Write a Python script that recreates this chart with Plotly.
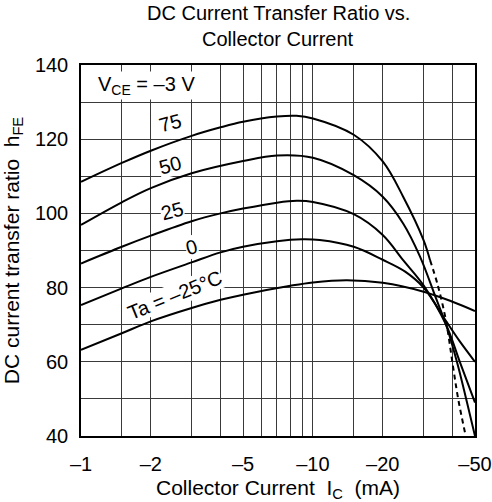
import plotly.graph_objects as go

# ---- data (Ic in mA magnitude, hFE) ----
ic_m25 = [1, 1.5, 2, 3, 4, 5, 8, 10, 14, 20, 30, 40, 50]
hfe_m25 = [63.2, 67.7, 70.9, 74.5, 76.7, 78.1, 80.5, 81.4, 82.0, 81.3, 78.9, 76.2, 73.7]

ic_0 = [1, 1.5, 2, 3, 4, 5, 7, 9, 10.7, 15, 20, 25, 30, 37.5, 43, 50]
hfe_0 = [75.3, 79.8, 82.9, 86.8, 89.5, 91.0, 92.5, 93.0, 92.8, 91.0, 87.5, 84.3, 80.0, 71.0, 65.5, 60.0]

ic_25 = [1, 1.5, 2, 3, 4, 5, 7, 8.5, 10, 15, 20, 24.5, 30, 37.5, 43, 50]
hfe_25 = [86.5, 91.0, 94.0, 97.9, 100.0, 101.3, 102.9, 103.4, 103.1, 99.8, 94.2, 87.4, 80.6, 70.0, 60.0, 49.0]

ic_50 = [1, 1.5, 2, 3, 5, 7, 10, 15, 20, 24.5, 29, 34, 37.5, 42, 46, 50]
hfe_50 = [96.9, 103.0, 106.8, 110.8, 114.1, 115.6, 115.0, 110.3, 104.5, 97.3, 88.3, 77.0, 70.0, 59.5, 49.5, 40.0]

ic_75 = [1, 1.5, 2, 3, 4, 5, 7, 8.5, 10, 15, 20, 24.5, 30, 32]
hfe_75 = [108.5, 113.6, 116.9, 120.9, 123.2, 124.7, 126.1, 126.3, 125.6, 121.2, 114.0, 104.5, 92.8, 87.4]
ic_75_dash = [32, 34.6, 37.5, 40.2, 42.4, 45.6]
hfe_75_dash = [87.4, 80.5, 71.0, 58.7, 49.7, 40.0]

x_grid = [1, 1.5, 2, 3, 4, 5, 6, 7, 8, 9, 10, 15, 20, 30, 40, 50]
x_labels = {1: "–1", 2: "–2", 5: "–5", 10: "–10", 20: "–20", 50: "–50"}
y_grid = list(range(40, 141, 10))
y_labels = {40: "40", 60: "60", 80: "80", 100: "100", 120: "120", 140: "140"}

FONT = "Liberation Sans, Arial, sans-serif"

fig = go.Figure()
line = dict(color="black", width=2, shape="spline", smoothing=1.0)
for xs, ys in [(ic_m25, hfe_m25), (ic_0, hfe_0), (ic_25, hfe_25), (ic_50, hfe_50), (ic_75, hfe_75)]:
    fig.add_trace(go.Scatter(x=xs, y=ys, mode="lines", line=line, showlegend=False))
fig.add_trace(go.Scatter(x=ic_75_dash, y=hfe_75_dash, mode="lines",
                         line=dict(color="black", width=2, dash="5px,4px", shape="spline"),
                         showlegend=False))

fig.update_xaxes(type="log", range=[0, 1.69897], tickvals=x_grid,
                 ticktext=[x_labels.get(v, "") for v in x_grid],
                 showgrid=True, gridcolor="#3a3a3a", gridwidth=1,
                 showline=True, linecolor="black", linewidth=1.5, mirror=True,
                 ticks="", zeroline=False, automargin=False, ticklabelstandoff=9,
                 tickfont=dict(family=FONT, size=20, color="black"),
                 title=dict(text="Collector Current\u00a0 I<sub>C</sub>\u00a0 (mA)",
                            font=dict(family=FONT, size=21, color="black"), standoff=9))
fig.update_yaxes(range=[40, 140], tickvals=y_grid,
                 ticktext=[y_labels.get(v, "") for v in y_grid],
                 showgrid=True, gridcolor="#3a3a3a", gridwidth=1,
                 showline=True, linecolor="black", linewidth=1.5, mirror=True,
                 ticks="", zeroline=False, automargin=False, ticklabelstandoff=7,
                 tickfont=dict(family=FONT, size=20, color="black"),
                 title=dict(text="DC current transfer ratio\u00a0 h<sub>FE</sub>",
                            font=dict(family=FONT, size=21, color="black"), standoff=10))

ann_font = dict(family=FONT, size=20, color="black")
annotations = [
    dict(text="DC Current Transfer Ratio vs.", xref="paper", yref="paper", x=0.5, y=1.0,
         yanchor="middle", yshift=52, showarrow=False, font=ann_font),
    dict(text="Collector Current", xref="paper", yref="paper", x=0.5, y=1.0,
         yanchor="middle", yshift=26, showarrow=False, font=ann_font),
    dict(text="V<sub>CE</sub> = –3 V", x=0.283, y=134.6, xref="x", yref="y", showarrow=False,
         font=ann_font, bgcolor="white"),
    dict(text="75", x=0.384, y=124.4, showarrow=False, font=ann_font, bgcolor="white", textangle=-15, borderpad=0),
    dict(text="50", x=0.384, y=113.0, showarrow=False, font=ann_font, bgcolor="white", textangle=-15, borderpad=0),
    dict(text="25", x=0.392, y=100.6, showarrow=False, font=ann_font, bgcolor="white", textangle=-15, borderpad=0),
    dict(text="0", x=0.477, y=91.0, showarrow=False, font=ann_font, bgcolor="white", textangle=-15, borderpad=0),
    dict(text="Ta = –25°C", x=0.405, y=78.0, showarrow=False, font=ann_font, bgcolor="white", textangle=-22, borderpad=0),
]
fig.update_layout(width=492, height=502, margin=dict(l=81, r=17, t=65, b=66),
                  plot_bgcolor="white", paper_bgcolor="white",
                  annotations=annotations, showlegend=False)
fig.write_html("out.html", config={"displayModeBar": False},
               post_script="document.body.style.margin='0';document.body.style.overflow='hidden';")
